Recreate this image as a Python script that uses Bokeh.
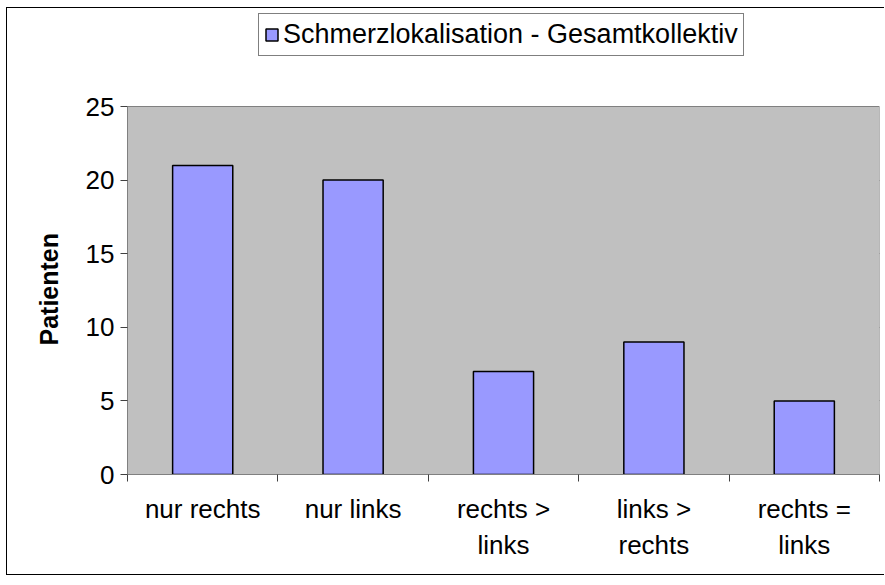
from bokeh.plotting import figure
from bokeh.models import Range1d, FixedTicker, ColumnDataSource, Legend, LegendItem
from bokeh.embed import file_html
from bokeh.resources import INLINE

categories = ["nur rechts", "nur links", "rechts > links", "links > rechts", "rechts = links"]
tick_labels = ["nur rechts", "nur links", "rechts >\nlinks", "links >\nrechts", "rechts =\nlinks"]
patienten = [21, 20, 7, 9, 5]
series_name = "Schmerzlokalisation - Gesamtkollektiv"
y_ticks = [0, 5, 10, 15, 20, 25]
y_title = "Patienten"

FONT = "Liberation Sans"

# layout (pixels inside the canvas)
H = 568
FRAME_BOTTOM = 102          # space under the plot area
AREA_H = 368                # height of the grey plot area
y_top = y_ticks[-1] * (H - FRAME_BOTTOM) / AREA_H   # range extends above plot area for legend

positions = [i + 0.5 for i in range(len(categories))]
boundaries = list(range(len(categories) + 1))
src = ColumnDataSource(dict(x=positions, top=patienten, cat=categories))

p = figure(width=878, height=H, output_backend="svg", toolbar_location=None,
           x_range=Range1d(0, len(categories)), y_range=Range1d(y_ticks[0], y_top),
           min_border_left=120, min_border_right=6, min_border_top=0,
           min_border_bottom=FRAME_BOTTOM, title_location="left")

# y axis title (as a left title so it can be centred on the grey area)
p.title.text = y_title
p.title.text_font = FONT
p.title.text_font_style = "bold"
p.title.text_font_size = "25px"
p.title.text_color = "black"
p.title.align = "left"
p.title.offset = 129
p.title.standoff = 40

# outer chart border (left, top, bottom; right edge lies outside the picture)
p.styles = {"margin-left": "6px", "margin-top": "7px",
            "border-left": "1px solid black", "border-top": "1px solid black",
            "border-bottom": "1px solid black"}

p.background_fill_color = "white"
p.border_fill_color = "white"
p.outline_line_color = None

# grey plot area
p.quad(left=[0], right=[len(categories)], bottom=[y_ticks[0]], top=[y_ticks[-1]],
       fill_color="#C0C0C0", line_color="#808080", line_width=1)

# grid
p.xgrid.grid_line_color = None
p.ygrid.ticker = FixedTicker(ticks=y_ticks[1:-1])
p.ygrid.grid_line_color = "#111111"
p.ygrid.grid_line_width = 1

r = p.vbar(x="x", top="top", bottom=0, width=0.4, source=src,
           fill_color="#9999FF", line_color="black", line_width=1.5)

# y axis
yax = p.yaxis[0]
yax.ticker = FixedTicker(ticks=y_ticks)
yax.bounds = (y_ticks[0], y_ticks[-1])
yax.axis_line_color = "#808080"
yax.major_tick_line_color = "#404040"
yax.major_tick_out = 7
yax.major_tick_in = 0
yax.minor_tick_line_color = None
yax.major_label_text_font = FONT
yax.major_label_text_font_size = "26px"
yax.major_label_text_color = "black"
yax.major_label_standoff = 6

# x axis
xax = p.xaxis[0]
xax.ticker = FixedTicker(ticks=positions, minor_ticks=boundaries)
xax.major_label_overrides = {pos: lbl for pos, lbl in zip(positions, tick_labels)}
xax.axis_line_color = "#808080"
xax.major_tick_line_color = None
xax.major_tick_out = 0
xax.major_tick_in = 0
xax.minor_tick_line_color = "#404040"
xax.minor_tick_out = 7
xax.minor_tick_in = 0
xax.major_label_text_font = FONT
xax.major_label_text_font_size = "26px"
xax.major_label_text_color = "black"
xax.major_label_standoff = 12

# legend
legend = Legend(items=[LegendItem(label=series_name, renderers=[r])],
                location=(131, 418))
legend.label_text_font = FONT
legend.label_text_font_size = "27px"
legend.label_text_color = "black"
legend.border_line_color = "black"
legend.border_line_width = 1
legend.background_fill_color = "white"
legend.background_fill_alpha = 1
legend.padding = 5
legend.margin = 0
legend.spacing = 0
legend.glyph_width = 15
legend.glyph_height = 15
legend.label_standoff = 4
p.add_layout(legend, "center")

open("out.html", "w").write(file_html(p, INLINE))
